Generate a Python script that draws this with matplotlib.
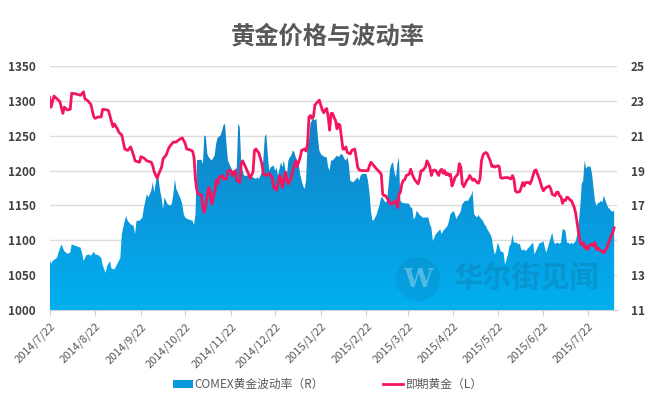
import matplotlib.pyplot as plt
import matplotlib.dates as mdates
import numpy as np
import pandas as pd
from matplotlib.colors import LinearSegmentedColormap
from matplotlib.patches import Patch, Ellipse
from matplotlib.lines import Line2D

plt.rcParams['font.family'] = ['Noto Sans CJK SC', 'DejaVu Sans']

title = '黄金价格与波动率'
vol_label = 'COMEX黄金波动率（R）'
price_label = '即期黄金（L）'
watermark = '华尔街见闻'

# spot gold (left axis)
price_dates = [
    '2014-07-22', '2014-07-23', '2014-07-25', '2014-07-27', '2014-07-29', '2014-07-31', '2014-08-01', '2014-08-03',
    '2014-08-05', '2014-08-06', '2014-08-09', '2014-08-12', '2014-08-14', '2014-08-15', '2014-08-17', '2014-08-19',
    '2014-08-21', '2014-08-22', '2014-08-24', '2014-08-26', '2014-08-27', '2014-08-30', '2014-08-31', '2014-09-02',
    '2014-09-03', '2014-09-04', '2014-09-06', '2014-09-07', '2014-09-09', '2014-09-11', '2014-09-13', '2014-09-15',
    '2014-09-17', '2014-09-18', '2014-09-21', '2014-09-22', '2014-09-24', '2014-09-26', '2014-09-29', '2014-09-30',
    '2014-10-01', '2014-10-03', '2014-10-04', '2014-10-06', '2014-10-07', '2014-10-09', '2014-10-11', '2014-10-12',
    '2014-10-14', '2014-10-16', '2014-10-17', '2014-10-19', '2014-10-20', '2014-10-22', '2014-10-23', '2014-10-25',
    '2014-10-27', '2014-10-28', '2014-10-29', '2014-10-30', '2014-10-31', '2014-11-02', '2014-11-03', '2014-11-04',
    '2014-11-05', '2014-11-07', '2014-11-08', '2014-11-09', '2014-11-10', '2014-11-11', '2014-11-12', '2014-11-13',
    '2014-11-14', '2014-11-16', '2014-11-17', '2014-11-19', '2014-11-20', '2014-11-22', '2014-11-23', '2014-11-25',
    '2014-11-26', '2014-11-28', '2014-11-29', '2014-11-30', '2014-12-02', '2014-12-04', '2014-12-05', '2014-12-07',
    '2014-12-08', '2014-12-09', '2014-12-11', '2014-12-13', '2014-12-14', '2014-12-16', '2014-12-18', '2014-12-20',
    '2014-12-21', '2014-12-22', '2014-12-23', '2014-12-25', '2014-12-26', '2014-12-27', '2014-12-28', '2014-12-29',
    '2014-12-30', '2014-12-31', '2015-01-02', '2015-01-03', '2015-01-05', '2015-01-06', '2015-01-08', '2015-01-09',
    '2015-01-11', '2015-01-12', '2015-01-13', '2015-01-14', '2015-01-15', '2015-01-16', '2015-01-17', '2015-01-18',
    '2015-01-20', '2015-01-21', '2015-01-22', '2015-01-23', '2015-01-24', '2015-01-25', '2015-01-26', '2015-01-27',
    '2015-01-28', '2015-01-29', '2015-01-30', '2015-01-31', '2015-02-01', '2015-02-02', '2015-02-03', '2015-02-04',
    '2015-02-05', '2015-02-06', '2015-02-07', '2015-02-08', '2015-02-09', '2015-02-11', '2015-02-12', '2015-02-14',
    '2015-02-15', '2015-02-16', '2015-02-17', '2015-02-19', '2015-02-21', '2015-02-23', '2015-02-24', '2015-02-25',
    '2015-02-27', '2015-03-01', '2015-03-02', '2015-03-04', '2015-03-05', '2015-03-06', '2015-03-07', '2015-03-09',
    '2015-03-10', '2015-03-11', '2015-03-12', '2015-03-14', '2015-03-15', '2015-03-16', '2015-03-17', '2015-03-18',
    '2015-03-19', '2015-03-20', '2015-03-21', '2015-03-23', '2015-03-24', '2015-03-25', '2015-03-26', '2015-03-27',
    '2015-03-29', '2015-03-30', '2015-03-31', '2015-04-01', '2015-04-03', '2015-04-04', '2015-04-05', '2015-04-06',
    '2015-04-07', '2015-04-08', '2015-04-09', '2015-04-10', '2015-04-12', '2015-04-13', '2015-04-14', '2015-04-15',
    '2015-04-16', '2015-04-17', '2015-04-18', '2015-04-19', '2015-04-20', '2015-04-21', '2015-04-22', '2015-04-23',
    '2015-04-25', '2015-04-26', '2015-04-27', '2015-04-28', '2015-04-29', '2015-04-30', '2015-05-01', '2015-05-02',
    '2015-05-03', '2015-05-04', '2015-05-05', '2015-05-06', '2015-05-08', '2015-05-09', '2015-05-10', '2015-05-11',
    '2015-05-12', '2015-05-13', '2015-05-14', '2015-05-15', '2015-05-17', '2015-05-18', '2015-05-19', '2015-05-20',
    '2015-05-22', '2015-05-23', '2015-05-24', '2015-05-25', '2015-05-27', '2015-05-29', '2015-05-31', '2015-06-01',
    '2015-06-02', '2015-06-03', '2015-06-04', '2015-06-06', '2015-06-07', '2015-06-08', '2015-06-09', '2015-06-10',
    '2015-06-12', '2015-06-13', '2015-06-14', '2015-06-16', '2015-06-17', '2015-06-18', '2015-06-19', '2015-06-20',
    '2015-06-21', '2015-06-22', '2015-06-23', '2015-06-24', '2015-06-25', '2015-06-26', '2015-06-27', '2015-06-28',
    '2015-06-30', '2015-07-01', '2015-07-02', '2015-07-03', '2015-07-04', '2015-07-05', '2015-07-06', '2015-07-07',
    '2015-07-08', '2015-07-09', '2015-07-10', '2015-07-11', '2015-07-12', '2015-07-13', '2015-07-14', '2015-07-15',
    '2015-07-16', '2015-07-17', '2015-07-18', '2015-07-19', '2015-07-20', '2015-07-21', '2015-07-22', '2015-07-23',
    '2015-07-24', '2015-07-25', '2015-07-26', '2015-07-27', '2015-07-28', '2015-07-29', '2015-07-30', '2015-07-31',
    '2015-08-01', '2015-08-02', '2015-08-04', '2015-08-05', '2015-08-06', '2015-08-07', '2015-08-08', '2015-08-09',
]
price = [
    1305, 1291, 1307, 1303, 1299, 1282, 1291, 1287,
    1288, 1311, 1310, 1308, 1313, 1303, 1300, 1295,
    1277, 1275, 1277, 1277, 1288, 1287, 1286, 1270,
    1263, 1267, 1260, 1255, 1251, 1231, 1229, 1234,
    1222, 1214, 1212, 1220, 1218, 1214, 1212, 1207,
    1198, 1189, 1195, 1205, 1217, 1222, 1233, 1236,
    1241, 1241, 1243, 1246, 1247, 1239, 1231, 1230,
    1228, 1219, 1186, 1171, 1166, 1166, 1147, 1140,
    1152, 1176, 1169, 1152, 1162, 1169, 1186, 1181,
    1190, 1193, 1188, 1188, 1200, 1200, 1193, 1200,
    1186, 1183, 1210, 1214, 1205, 1195, 1189, 1198,
    1229, 1231, 1225, 1210, 1195, 1193, 1196, 1190,
    1176, 1174, 1172, 1193, 1188, 1176, 1186, 1198,
    1188, 1181, 1190, 1200, 1214, 1206, 1219, 1229,
    1231, 1228, 1238, 1277, 1279, 1275, 1277, 1294,
    1299, 1301, 1294, 1287, 1283, 1287, 1289, 1277,
    1258, 1282, 1282, 1276, 1272, 1260, 1267, 1265,
    1248, 1231, 1231, 1234, 1226, 1224, 1229, 1231,
    1219, 1205, 1201, 1200, 1200, 1200, 1207, 1212,
    1207, 1202, 1200, 1195, 1166, 1164, 1164, 1157,
    1152, 1152, 1154, 1157, 1147, 1166, 1169, 1181,
    1186, 1187, 1193, 1195, 1202, 1195, 1190, 1186,
    1181, 1188, 1200, 1200, 1205, 1214, 1210, 1205,
    1193, 1200, 1201, 1200, 1193, 1200, 1202, 1196,
    1200, 1194, 1196, 1193, 1195, 1178, 1183, 1190,
    1195, 1210, 1205, 1181, 1177, 1181, 1186, 1188,
    1193, 1190, 1186, 1188, 1183, 1182, 1188, 1214,
    1222, 1225, 1226, 1224, 1214, 1206, 1207, 1205,
    1207, 1206, 1190, 1189, 1190, 1190, 1188, 1193,
    1188, 1171, 1169, 1170, 1176, 1183, 1178, 1183,
    1183, 1181, 1186, 1200, 1201, 1195, 1190, 1183,
    1176, 1171, 1174, 1176, 1177, 1178, 1174, 1166,
    1164, 1169, 1169, 1164, 1162, 1153, 1158, 1157,
    1162, 1161, 1158, 1157, 1152, 1147, 1138, 1123,
    1109, 1097, 1094, 1097, 1089, 1092, 1087, 1092,
    1094, 1094, 1092, 1097, 1087, 1089, 1087, 1085,
    1084, 1082, 1089, 1095, 1101, 1106, 1111, 1118,
]

# COMEX gold volatility (right axis)
vol_dates = [
    '2014-07-22', '2014-07-23', '2014-07-24', '2014-07-27', '2014-07-28', '2014-07-30', '2014-08-01', '2014-08-03',
    '2014-08-05', '2014-08-06', '2014-08-09', '2014-08-12', '2014-08-13', '2014-08-14', '2014-08-16', '2014-08-18',
    '2014-08-19', '2014-08-21', '2014-08-22', '2014-08-24', '2014-08-26', '2014-08-27', '2014-08-29', '2014-08-30',
    '2014-09-01', '2014-09-02', '2014-09-04', '2014-09-06', '2014-09-08', '2014-09-09', '2014-09-11', '2014-09-12',
    '2014-09-13', '2014-09-15', '2014-09-17', '2014-09-18', '2014-09-19', '2014-09-21', '2014-09-23', '2014-09-24',
    '2014-09-26', '2014-09-27', '2014-09-29', '2014-09-30', '2014-10-01', '2014-10-03', '2014-10-04', '2014-10-05',
    '2014-10-06', '2014-10-07', '2014-10-08', '2014-10-10', '2014-10-12', '2014-10-13', '2014-10-14', '2014-10-15',
    '2014-10-16', '2014-10-17', '2014-10-19', '2014-10-20', '2014-10-21', '2014-10-22', '2014-10-24', '2014-10-26',
    '2014-10-27', '2014-10-28', '2014-10-29', '2014-10-30', '2014-10-31', '2014-11-02', '2014-11-03', '2014-11-04',
    '2014-11-05', '2014-11-06', '2014-11-07', '2014-11-08', '2014-11-09', '2014-11-11', '2014-11-12', '2014-11-13',
    '2014-11-15', '2014-11-16', '2014-11-17', '2014-11-18', '2014-11-19', '2014-11-20', '2014-11-22', '2014-11-23',
    '2014-11-25', '2014-11-26', '2014-11-27', '2014-11-28', '2014-11-29', '2014-11-30', '2014-12-01', '2014-12-02',
    '2014-12-04', '2014-12-05', '2014-12-07', '2014-12-09', '2014-12-10', '2014-12-11', '2014-12-13', '2014-12-14',
    '2014-12-15', '2014-12-16', '2014-12-17', '2014-12-18', '2014-12-19', '2014-12-21', '2014-12-22', '2014-12-23',
    '2014-12-24', '2014-12-26', '2014-12-27', '2014-12-28', '2014-12-29', '2014-12-30', '2014-12-31', '2015-01-01',
    '2015-01-02', '2015-01-03', '2015-01-04', '2015-01-05', '2015-01-07', '2015-01-08', '2015-01-09', '2015-01-10',
    '2015-01-11', '2015-01-12', '2015-01-13', '2015-01-14', '2015-01-15', '2015-01-16', '2015-01-17', '2015-01-18',
    '2015-01-19', '2015-01-20', '2015-01-21', '2015-01-22', '2015-01-23', '2015-01-25', '2015-01-26', '2015-01-27',
    '2015-01-28', '2015-01-29', '2015-01-30', '2015-01-31', '2015-02-02', '2015-02-03', '2015-02-04', '2015-02-05',
    '2015-02-06', '2015-02-07', '2015-02-08', '2015-02-09', '2015-02-10', '2015-02-11', '2015-02-13', '2015-02-14',
    '2015-02-15', '2015-02-16', '2015-02-17', '2015-02-18', '2015-02-19', '2015-02-21', '2015-02-22', '2015-02-23',
    '2015-02-24', '2015-02-25', '2015-02-26', '2015-02-27', '2015-03-01', '2015-03-02', '2015-03-03', '2015-03-04',
    '2015-03-05', '2015-03-06', '2015-03-07', '2015-03-08', '2015-03-10', '2015-03-11', '2015-03-12', '2015-03-13',
    '2015-03-14', '2015-03-15', '2015-03-16', '2015-03-17', '2015-03-18', '2015-03-20', '2015-03-22', '2015-03-23',
    '2015-03-24', '2015-03-25', '2015-03-26', '2015-03-27', '2015-03-28', '2015-03-29', '2015-03-30', '2015-03-31',
    '2015-04-01', '2015-04-04', '2015-04-05', '2015-04-06', '2015-04-07', '2015-04-08', '2015-04-09', '2015-04-10',
    '2015-04-12', '2015-04-13', '2015-04-14', '2015-04-15', '2015-04-16', '2015-04-17', '2015-04-18', '2015-04-19',
    '2015-04-20', '2015-04-22', '2015-04-23', '2015-04-24', '2015-04-25', '2015-04-26', '2015-04-27', '2015-04-28',
    '2015-04-30', '2015-05-01', '2015-05-02', '2015-05-03', '2015-05-04', '2015-05-05', '2015-05-06', '2015-05-07',
    '2015-05-08', '2015-05-09', '2015-05-10', '2015-05-12', '2015-05-13', '2015-05-14', '2015-05-15', '2015-05-17',
    '2015-05-18', '2015-05-19', '2015-05-20', '2015-05-21', '2015-05-22', '2015-05-23', '2015-05-24', '2015-05-26',
    '2015-05-27', '2015-05-28', '2015-05-29', '2015-05-30', '2015-05-31', '2015-06-01', '2015-06-02', '2015-06-04',
    '2015-06-05', '2015-06-06', '2015-06-07', '2015-06-08', '2015-06-09', '2015-06-10', '2015-06-12', '2015-06-13',
    '2015-06-14', '2015-06-15', '2015-06-16', '2015-06-17', '2015-06-18', '2015-06-19', '2015-06-20', '2015-06-21',
    '2015-06-22', '2015-06-23', '2015-06-24', '2015-06-25', '2015-06-26', '2015-06-27', '2015-06-28', '2015-06-29',
    '2015-06-30', '2015-07-01', '2015-07-03', '2015-07-04', '2015-07-05', '2015-07-06', '2015-07-07', '2015-07-08',
    '2015-07-09', '2015-07-10', '2015-07-11', '2015-07-12', '2015-07-13', '2015-07-14', '2015-07-15', '2015-07-16',
    '2015-07-17', '2015-07-18', '2015-07-19', '2015-07-20', '2015-07-21', '2015-07-22', '2015-07-23', '2015-07-24',
    '2015-07-25', '2015-07-26', '2015-07-27', '2015-07-28', '2015-07-29', '2015-07-30', '2015-07-31', '2015-08-01',
    '2015-08-02', '2015-08-04', '2015-08-05', '2015-08-06', '2015-08-07', '2015-08-08', '2015-08-09',
]
vol = [
    13.90, 13.65, 13.81, 14.00, 14.29, 14.77, 14.38, 14.23,
    14.29, 14.77, 14.67, 14.58, 14.29, 13.81, 14.15, 14.19,
    14.10, 14.35, 14.19, 14.15, 14.00, 13.58, 13.13, 13.52,
    13.81, 13.38, 13.33, 13.65, 14.00, 15.35, 16.12, 16.40,
    16.12, 15.92, 15.83, 15.35, 16.12, 16.12, 16.31, 16.88,
    17.65, 17.46, 17.85, 18.33, 17.75, 18.81, 18.52, 17.85,
    17.42, 16.79, 17.46, 17.08, 16.98, 17.12, 17.65, 18.52,
    17.94, 17.75, 17.37, 17.08, 16.50, 16.31, 16.21, 16.15,
    16.12, 15.88, 16.50, 19.58, 19.62, 19.62, 19.38, 21.02,
    20.96, 19.96, 19.77, 19.67, 19.58, 19.87, 20.54, 20.88,
    21.02, 21.27, 21.60, 21.69, 20.54, 19.58, 19.19, 19.00,
    19.00, 19.19, 21.69, 21.50, 19.50, 19.00, 18.71, 18.71,
    18.71, 18.62, 18.62, 18.52, 18.62, 18.52, 18.90, 19.58,
    20.92, 21.12, 19.96, 19.00, 19.19, 19.29, 19.00, 19.15,
    18.71, 19.48, 19.19, 19.58, 19.00, 18.71, 19.58, 19.77,
    19.87, 20.15, 20.06, 19.77, 19.38, 18.81, 18.42, 18.13,
    17.94, 18.42, 20.54, 20.73, 21.69, 21.88, 21.98, 21.88,
    21.98, 20.92, 20.15, 19.96, 19.87, 19.77, 19.77, 19.19,
    19.00, 19.58, 19.58, 19.67, 19.87, 19.77, 19.87, 19.96,
    19.87, 19.67, 19.58, 19.77, 19.38, 18.42, 18.33, 18.42,
    18.52, 18.62, 18.42, 18.71, 18.81, 18.81, 18.81, 18.42,
    17.75, 16.69, 16.15, 16.15, 16.50, 16.79, 17.08, 17.46,
    17.46, 17.27, 17.17, 17.27, 19.10, 19.38, 19.48, 18.90,
    18.60, 19.40, 19.77, 17.27, 17.17, 17.12, 17.12, 17.08,
    16.88, 16.88, 16.21, 16.31, 16.69, 16.60, 16.46, 16.40,
    16.31, 16.31, 16.31, 15.92, 15.73, 14.96, 15.15, 15.35,
    15.54, 15.63, 15.35, 15.54, 15.63, 15.73, 15.83, 16.12,
    16.50, 16.69, 16.50, 16.21, 16.40, 16.50, 16.69, 17.08,
    17.27, 17.27, 17.27, 17.46, 17.56, 17.85, 16.50, 16.40,
    16.31, 16.46, 16.31, 16.12, 15.92, 15.83, 15.63, 15.35,
    15.15, 14.58, 14.19, 14.38, 14.87, 14.67, 14.38, 14.29,
    13.60, 13.90, 14.20, 14.67, 14.77, 15.35, 14.87, 14.87,
    14.77, 14.81, 14.48, 14.42, 14.48, 14.38, 14.58, 14.67,
    14.77, 14.87, 14.19, 14.38, 14.58, 14.77, 14.87, 14.87,
    14.96, 14.58, 14.29, 14.58, 14.87, 15.15, 15.44, 14.96,
    14.77, 14.87, 14.81, 14.87, 15.63, 15.63, 15.54, 14.87,
    14.87, 14.77, 14.87, 14.77, 14.87, 14.96, 15.35, 16.00,
    16.88, 18.23, 18.42, 19.58, 19.10, 19.23, 19.23, 19.23,
    18.81, 18.04, 17.27, 16.98, 17.12, 17.17, 17.27, 17.17,
    17.56, 17.08, 16.88, 16.79, 16.69, 16.65, 16.69,
]

month_ticks = ['2014-07-22', '2014-08-22', '2014-09-22', '2014-10-22', '2014-11-22', '2014-12-22', '2015-01-22',
               '2015-02-22', '2015-03-22', '2015-04-22', '2015-05-22', '2015-06-22', '2015-07-22']
x_range = ['2014-07-22', '2015-08-11']
price_ticks = [1000, 1050, 1100, 1150, 1200, 1250, 1300, 1350]
vol_ticks = [11, 13, 15, 17, 19, 21, 23, 25]

pink = '#F5145F'
grey = '#595959'

price_d = pd.to_datetime(price_dates)
vol_d = pd.to_datetime(vol_dates)
ticks_d = pd.to_datetime(month_ticks)
x0, x1 = mdates.date2num(pd.to_datetime(x_range))

fig = plt.figure(figsize=(6.55, 3.93), dpi=100)
ax = fig.add_axes([0.0757, 0.211, 0.8664, 0.621])
ax2 = ax.twinx()
ax.set_zorder(2)
ax.patch.set_visible(False)

# volatility area with vertical gradient, clipped to the filled shape
poly = ax2.fill_between(vol_d, vol, vol_ticks[0], facecolor='none', edgecolor='none')
cmap = LinearSegmentedColormap.from_list('vol', ['#00B0F0', '#0A98DC', '#1482C6'])
grad = np.linspace(0, 1, 256).reshape(-1, 1)
img = ax2.imshow(grad, extent=[x0, x1, 11, 22], origin='lower', aspect='auto', cmap=cmap, zorder=1)
img.set_clip_path(poly.get_paths()[0], ax2.transData)

ax.plot(price_d, price, color=pink, lw=2.0, solid_joinstyle='round')

ax.set_xlim(x0, x1)
ax.set_ylim(1000, 1350)
ax2.set_ylim(11, 25)
ax.set_yticks(price_ticks)
ax2.set_yticks(vol_ticks)
ax2.yaxis.grid(True, color='#DCDCDC', lw=1)
ax2.set_axisbelow(True)

ax.set_xticks(ticks_d)
ax.set_xticklabels([f'{d.year}/{d.month}/{d.day}' for d in ticks_d], rotation=45, ha='right',
                   rotation_mode='anchor', fontsize=8, color=grey)
ax.tick_params(axis='x', length=4, color='#D0D0D0', pad=4)
ax.tick_params(axis='y', length=0, pad=10, labelsize=8.5, labelcolor='#404040')
ax2.tick_params(axis='y', length=0, pad=10, labelsize=8.5, labelcolor='#404040')
for lab in ax.get_yticklabels() + ax2.get_yticklabels():
    lab.set_fontweight('bold')

for s in ['top', 'left', 'right']:
    ax.spines[s].set_visible(False)
for s in ax2.spines.values():
    s.set_visible(False)
ax.spines['bottom'].set_color('#D0D0D0')

fig.text(0.5, 0.908, title, ha='center', va='center', fontsize=17.5, fontweight='bold', color=grey)

# watermark
fig.add_artist(Ellipse((0.638, 0.290), 44 / 655, 44 / 393, transform=fig.transFigure,
                       facecolor='#1a4f7a', alpha=0.12, edgecolor='none', zorder=3))
fig.text(0.638, 0.290, 'W', fontsize=19, fontweight='bold', family='DejaVu Serif',
         color='white', alpha=0.3, ha='center', va='center')
fig.text(0.803, 0.290, watermark, fontsize=21, fontweight='bold', color='#204060', alpha=0.18,
         ha='center', va='center')

handles = [Patch(facecolor='#0A98DC', edgecolor='none'), Line2D([], [], color=pink, lw=2)]
fig.legend(handles, [vol_label, price_label], loc='lower center', bbox_to_anchor=(0.5, -0.022), ncol=2,
           frameon=False, fontsize=8.5, handlelength=1.7, handleheight=0.6, handletextpad=0.15,
           columnspacing=5, labelcolor=grey)

fig.savefig('out.png', dpi=100)
